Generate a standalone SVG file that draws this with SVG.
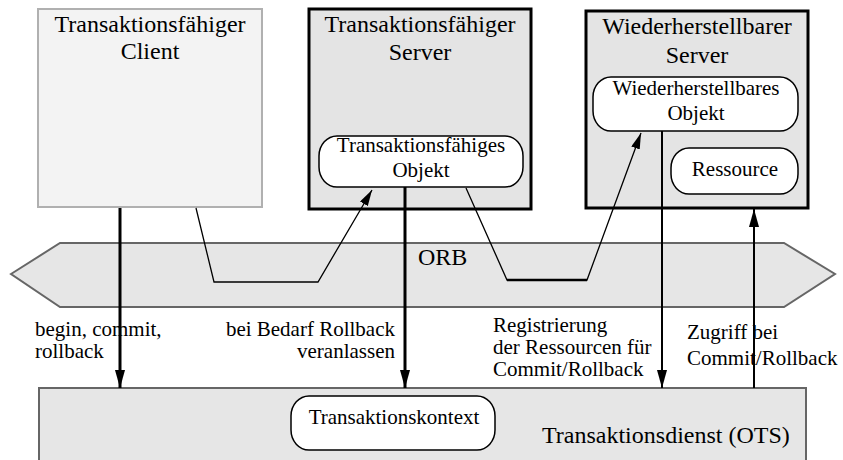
<svg xmlns="http://www.w3.org/2000/svg" width="843" height="460" viewBox="0 0 843 460" font-family="'Liberation Serif', 'DejaVu Serif', serif">
  <defs>
    <marker id="head" markerUnits="userSpaceOnUse" markerWidth="20" markerHeight="12" refX="18" refY="5" orient="auto">
      <path d="M0,0 L18,5 L0,10 Z" fill="#000"/>
    </marker>
    <marker id="headSmall" markerUnits="userSpaceOnUse" markerWidth="18" markerHeight="10" refX="16" refY="4.5" orient="auto">
      <path d="M0,0 L16,4.5 L0,9 Z" fill="#000"/>
    </marker>
  </defs>
  <style>
    text { font-family: 'Liberation Serif', 'DejaVu Serif', serif; fill: #000; }
    .title { font-size: 24px; text-anchor: middle; }
    .inner { font-size: 21px; text-anchor: middle; }
    .label { font-size: 21px; }
    .client { fill: #f3f3f3; stroke: #b0b0b0; stroke-width: 2; }
    .server { fill: #e4e4e4; stroke: #000; stroke-width: 3; }
    .band { fill: #e6e6e6; stroke: #666; stroke-width: 2; }
    .pill { fill: #fff; stroke: #000; stroke-width: 1.5; }
    .thick { fill: none; stroke: #000; stroke-width: 3; }
    .mid { fill: none; stroke: #000; stroke-width: 2; }
    .thin { fill: none; stroke: #000; stroke-width: 1.3; stroke-linejoin: miter; }
  </style>

  <!-- ORB band -->
  <g id="orb">
    <polygon class="band" points="11,274 60,243 784,243 835,274 784,307 60,307"/>
    <text x="418" y="265" font-size="24">ORB</text>
  </g>

  <!-- Transaction service -->
  <g id="ots">
    <rect class="band" x="39" y="388" width="767" height="80"/>
    <text x="542" y="443" font-size="24">Transaktionsdienst (OTS)</text>
  </g>
  <g id="kontext">
    <rect class="pill" x="291" y="396" width="204" height="54" rx="18" ry="20"/>
    <text class="inner" x="394" y="424">Transaktionskontext</text>
  </g>

  <!-- Client -->
  <g id="client">
    <rect class="client" x="38" y="9" width="224" height="198"/>
    <text class="title" x="150" y="32">Transaktionsfähiger</text>
    <text class="title" x="150" y="59">Client</text>
  </g>

  <!-- Transactional server -->
  <g id="server">
    <rect class="server" x="309" y="9" width="222" height="200"/>
    <text class="title" x="420" y="32">Transaktionsfähiger</text>
    <text class="title" x="420" y="60">Server</text>
  </g>
  <g id="objekt">
    <rect class="pill" x="319" y="136" width="204" height="51" rx="18" ry="20"/>
    <text class="inner" x="421" y="152">Transaktionsfähiges</text>
    <text class="inner" x="421" y="177">Objekt</text>
  </g>

  <!-- Recoverable server -->
  <g id="recoverable-server">
    <rect class="server" x="586" y="11" width="222" height="197"/>
    <text class="title" x="697" y="34">Wiederherstellbarer</text>
    <text class="title" x="697" y="63">Server</text>
  </g>
  <g id="recoverable-objekt">
    <rect class="pill" x="593" y="77" width="205" height="54" rx="18" ry="20"/>
    <text class="inner" x="696" y="95">Wiederherstellbares</text>
    <text class="inner" x="696" y="120">Objekt</text>
  </g>
  <g id="ressource">
    <rect class="pill" x="671" y="148" width="127" height="46" rx="18" ry="20"/>
    <text class="inner" x="735" y="176">Ressource</text>
  </g>

  <!-- Connectors -->
  <g id="connectors">
    <line class="thick" x1="120" y1="208" x2="120" y2="388" marker-end="url(#head)"/>
    <polyline class="thin" points="196,208 214,282 318,282 372,190" marker-end="url(#headSmall)"/>
    <line class="thick" x1="405" y1="187" x2="405" y2="388" marker-end="url(#head)"/>
    <polyline class="thin" points="466,188 507,280 587,280 641,133" marker-end="url(#headSmall)"/>
    <line x1="507" y1="280" x2="587" y2="280" stroke="#000" stroke-width="2.5"/>
    <line class="mid" x1="662" y1="131" x2="662" y2="388" marker-end="url(#head)"/>
    <line class="mid" x1="754" y1="388" x2="754" y2="209" marker-end="url(#head)"/>
  </g>

  <!-- Connector labels -->
  <g id="labels">
    <text class="label" x="35" y="336">begin, commit,</text>
    <text class="label" x="35" y="358">rollback</text>
    <text class="label" x="395" y="336" text-anchor="end">bei Bedarf Rollback</text>
    <text class="label" x="395" y="358" text-anchor="end">veranlassen</text>
    <text class="label" x="493" y="332">Registrierung</text>
    <text class="label" x="493" y="354">der Ressourcen für</text>
    <text class="label" x="493" y="376">Commit/Rollback</text>
    <text class="label" x="687" y="339">Zugriff bei</text>
    <text class="label" x="687" y="365">Commit/Rollback</text>
  </g>
</svg>
